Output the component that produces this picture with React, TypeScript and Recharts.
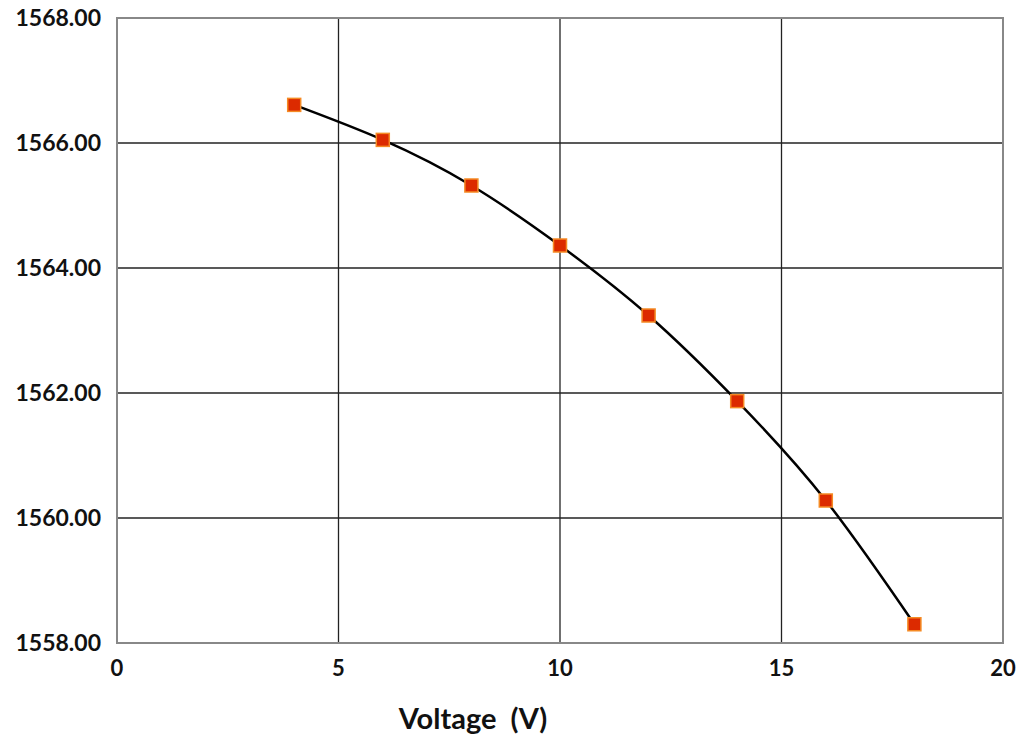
import {
  ComposedChart,
  Line,
  Scatter,
  XAxis,
  YAxis,
  CartesianGrid,
  ReferenceArea,
  Label,
} from "recharts";

const voltages = [4, 6, 8, 10, 12, 14, 16, 18];
const wavelengths = [1566.61, 1566.05, 1565.32, 1564.36, 1563.24, 1561.87, 1560.28, 1558.3];
const xTicks = [0, 5, 10, 15, 20];
const yTicks = [1558, 1560, 1562, 1564, 1566, 1568];

const data = voltages.map((v, i) => ({ v, w: wavelengths[i] }));

const FONT = "Lato, 'Open Sans', sans-serif";

function SquareMarker(props: any) {
  const { cx, cy } = props;
  if (cx == null || cy == null) return null;
  const s = 13;
  return (
    <rect
      x={cx - s / 2}
      y={cy - s / 2}
      width={s}
      height={s}
      fill="#dc2a00"
      stroke="#f58a24"
      strokeWidth={1.5}
    />
  );
}

export default function App() {
  return (
    <div style={{ position: "absolute", left: 0, top: 0, background: "#fff" }}>
      <ComposedChart
        width={1021}
        height={742}
        data={data}
        margin={{ top: 18, right: 18, bottom: 9, left: 0 }}
      >
        <CartesianGrid stroke="#222" strokeWidth={1.3} vertical horizontal />
        <ReferenceArea
          x1={0}
          x2={20}
          y1={1558}
          y2={1568}
          fill="none"
          stroke="#888"
          strokeWidth={2}
          ifOverflow="visible"
        />
        <XAxis
          type="number"
          dataKey="v"
          domain={[0, 20]}
          ticks={xTicks}
          height={90}
          axisLine={false}
          tickLine={false}
          tickSize={0}
          tickMargin={17}
          tick={{ fill: "#111", fontSize: 22, fontWeight: 700, fontFamily: FONT }}
        >
          <Label
            value={"Voltage\u00a0\u00a0(V)"}
            position="insideBottom"
            offset={4}
            dx={-87}
            fill="#111"
            fontSize={29}
            fontWeight={700}
            fontFamily={FONT}
          />
        </XAxis>
        <YAxis
          type="number"
          domain={[1558, 1568]}
          ticks={yTicks}
          width={117}
          axisLine={false}
          tickLine={false}
          tickSize={0}
          tickMargin={16}
          tickFormatter={(t: number) => t.toFixed(2)}
          tick={{ fill: "#111", fontSize: 23, fontWeight: 700, fontFamily: FONT }}
        />
        <Line
          type="natural"
          dataKey="w"
          stroke="#000"
          strokeWidth={2.5}
          dot={false}
          activeDot={false}
          isAnimationActive={false}
        />
        <Scatter
          dataKey="w"
          shape={SquareMarker}
          isAnimationActive={false}
        />
      </ComposedChart>
    </div>
  );
}
